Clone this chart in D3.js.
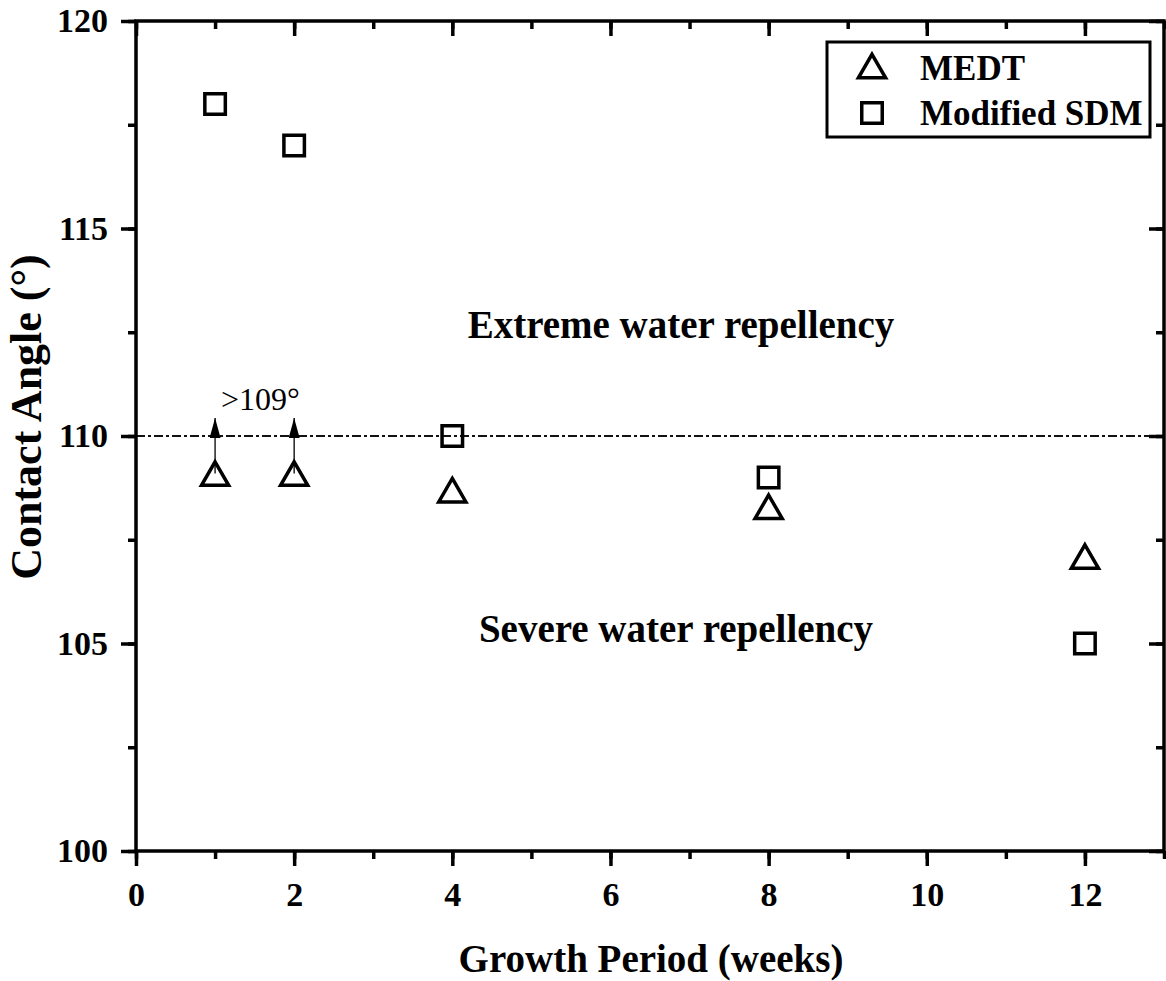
<!DOCTYPE html>
<html>
<head>
<meta charset="utf-8">
<script src="https://cdn.jsdelivr.net/npm/d3@7"></script>
<style>
  body { margin: 0; background: #fff; }
  svg, svg text { font-family: "Liberation Serif", "Times New Roman", serif; }
</style>
</head>
<body>
<svg id="viz" width="1166" height="981"></svg>
<script>
// weeks of growth
const weeks = [1, 2, 4, 8, 12];
const medt = [109, 109, 108.6, 108.2, 107];
const sdm = [118, 117, 110, 109, 105];
// MEDT points that are only a lower bound (>109°)
const lowerBound = [1, 2];
const threshold = 110;
const xTicks = [0, 2, 4, 6, 8, 10, 12];
const yTicks = [100, 105, 110, 115, 120];

const svg = d3.select("#viz");
const margin = {top: 21, right: 2, bottom: 130, left: 136};
const W = 1166, H = 981;
const width = W - margin.left - margin.right;
const height = H - margin.top - margin.bottom;

const x = d3.scaleLinear().domain([0, 13]).range([0, width]);
const y = d3.scaleLinear().domain([100, 120]).range([height, 0]);

const g = svg.append("g").attr("transform", `translate(${margin.left},${margin.top})`);

svg.append("defs").append("marker")
    .attr("id", "arrow")
    .attr("viewBox", "0 0 10 10")
    .attr("refX", 10).attr("refY", 5)
    .attr("markerWidth", 20).attr("markerHeight", 11)
    .attr("markerUnits", "userSpaceOnUse")
    .attr("orient", "auto")
    .attr("preserveAspectRatio", "none")
    .append("path")
    .attr("d", "M0,0 L10,5 L0,10 Z")
    .attr("fill", "#000");

// threshold line
g.append("line")
    .attr("x1", 0).attr("x2", width)
    .attr("y1", y(threshold)).attr("y2", y(threshold))
    .attr("stroke", "#111").attr("stroke-width", 2)
    .attr("stroke-dasharray", "9,3,3,3");

// axes
function styleAxis(sel) {
    sel.attr("font-family", null).attr("font-size", null);
    sel.select(".domain").remove();
    sel.selectAll(".tick line").attr("stroke-width", 3.5);
    sel.selectAll("text")
        .style("font-family", '"Liberation Serif", "Times New Roman", serif')
        .style("font-weight", "bold").style("font-size", "34px").attr("fill", "#000");
}
const xMinor = d3.range(0, 14, 1);
const yMinor = d3.range(100, 121, 2.5);

const axBottom = g.append("g").attr("transform", `translate(0,${height})`)
    .call(d3.axisBottom(x).tickValues(xMinor).tickSize(8).tickFormat(""));
styleAxis(axBottom);
const axBottomMaj = g.append("g").attr("transform", `translate(0,${height})`)
    .call(d3.axisBottom(x).tickValues(xTicks).tickSize(15).tickPadding(16).tickFormat(d3.format("d")));
styleAxis(axBottomMaj);

const axLeft = g.append("g").call(d3.axisLeft(y).tickValues(yMinor).tickSize(8).tickFormat(""));
styleAxis(axLeft);
const axLeftMaj = g.append("g").call(d3.axisLeft(y).tickValues(yTicks).tickSize(15).tickPadding(13).tickFormat(d3.format("d")));
styleAxis(axLeftMaj);

const axTop = g.append("g").call(d3.axisBottom(x).tickValues(xMinor).tickSize(8).tickFormat(""));
styleAxis(axTop);
const axTopMaj = g.append("g").call(d3.axisBottom(x).tickValues(xTicks).tickSize(15).tickFormat(""));
styleAxis(axTopMaj);

const axRight = g.append("g").attr("transform", `translate(${width},0)`)
    .call(d3.axisLeft(y).tickValues(yMinor).tickSize(8).tickFormat(""));
styleAxis(axRight);
const axRightMaj = g.append("g").attr("transform", `translate(${width},0)`)
    .call(d3.axisLeft(y).tickValues(yTicks).tickSize(15).tickFormat(""));
styleAxis(axRightMaj);

// frame
g.append("rect").attr("width", width).attr("height", height)
    .attr("fill", "none").attr("stroke", "#000").attr("stroke-width", 3.5);

// arrows for lower bound points
const medtByWeek = new Map(weeks.map((w, i) => [w, medt[i]]));
g.selectAll(".lb").data(lowerBound).enter().append("line")
    .attr("class", "lb")
    .attr("x1", d => x(d)).attr("x2", d => x(d))
    .attr("y1", d => y(medtByWeek.get(d)) - 4)
    .attr("y2", y(threshold) - 18)
    .attr("stroke", "#000").attr("stroke-width", 1.3)
    .attr("marker-end", "url(#arrow)");

g.append("text")
    .attr("x", x(1) + 6).attr("y", y(threshold) - 26)
    .attr("font-size", 32).text(">109°");

// markers
const tri = d3.symbol().type(d3.symbolTriangle).size(320);
const sq = d3.symbol().type(d3.symbolSquare).size(420);

g.selectAll(".sdm").data(weeks).enter().append("path")
    .attr("class", "sdm")
    .attr("transform", (d, i) => `translate(${x(d)},${y(sdm[i])})`)
    .attr("d", sq)
    .attr("fill", "none").attr("stroke", "#000").attr("stroke-width", 3.5);

g.selectAll(".medt").data(weeks).enter().append("path")
    .attr("class", "medt")
    .attr("transform", (d, i) => `translate(${x(d)},${y(medt[i])})`)
    .attr("d", tri)
    .attr("fill", "none").attr("stroke", "#000").attr("stroke-width", 3.5)
    .attr("stroke-linejoin", "miter");

// region labels
svg.append("text").attr("x", 681).attr("y", 338)
    .attr("text-anchor", "middle").attr("font-weight", "bold").attr("font-size", 39)
    .text("Extreme water repellency");
svg.append("text").attr("x", 676).attr("y", 642)
    .attr("text-anchor", "middle").attr("font-weight", "bold").attr("font-size", 39)
    .text("Severe water repellency");

// legend
const lg = svg.append("g").attr("transform", "translate(827,42)");
lg.append("rect").attr("width", 323).attr("height", 95)
    .attr("fill", "#fff").attr("stroke", "#000").attr("stroke-width", 3);
lg.append("path").attr("transform", "translate(45,28)").attr("d", tri)
    .attr("fill", "none").attr("stroke", "#000").attr("stroke-width", 3.5);
lg.append("path").attr("transform", "translate(45,71)").attr("d", sq)
    .attr("fill", "none").attr("stroke", "#000").attr("stroke-width", 3.5);
lg.append("text").attr("x", 93).attr("y", 38).attr("font-weight", "bold").attr("font-size", 35).text("MEDT");
lg.append("text").attr("x", 93).attr("y", 83).attr("font-weight", "bold").attr("font-size", 35).text("Modified SDM");

// axis titles
svg.append("text").attr("x", 651).attr("y", 972)
    .attr("text-anchor", "middle").attr("font-weight", "bold").attr("font-size", 39)
    .text("Growth Period (weeks)");
svg.append("text")
    .attr("transform", `translate(41,417) rotate(-90)`)
    .attr("text-anchor", "middle").attr("font-weight", "bold").attr("font-size", 44)
    .text("Contact Angle (°)");
</script>
</body>
</html>
